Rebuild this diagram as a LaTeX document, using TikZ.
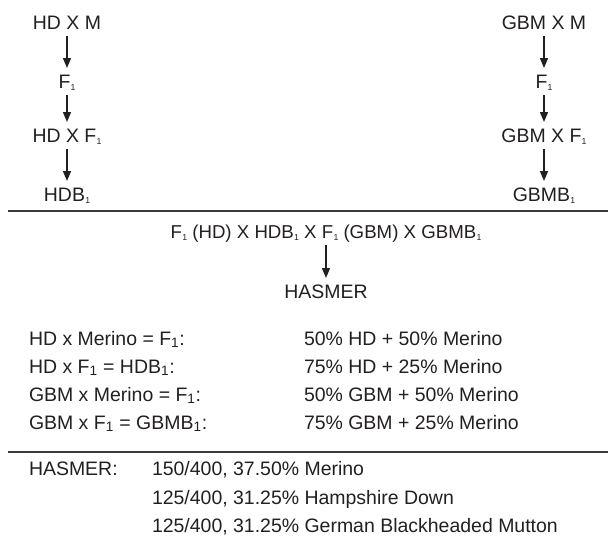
\documentclass[tikz,border=0pt]{standalone}
\usepackage{fontspec}
\setmainfont{Liberation Sans}
\usetikzlibrary{arrows.meta}
\definecolor{ink}{HTML}{231F20}
\definecolor{rulegray}{HTML}{3A3A3A}
% small, narrow index used in the cross scheme
\newcommand{\idx}{\kern0.2pt\raisebox{-1.6pt}{\fontsize{6.5}{7}\selectfont 1}}
% index used in the composition table
\newcommand{\one}{\textsubscript{1}}
\begin{document}
\begin{tikzpicture}[x=0.75pt,y=-0.75pt,
  every node/.style={inner sep=0pt, outer sep=0pt, text=ink,
    font=\fontsize{14.6}{17}\selectfont},
  lbl/.style={anchor=base, text height=10.5pt, text depth=3pt},
  cell/.style={anchor=base west},
  arr/.style={draw=ink, line width=1pt,
    -{Triangle[length=7.5pt,width=6pt]},
    shorten <=2.5pt, shorten >=4.5pt},
  sep/.style={draw=rulegray, line width=1.1pt}]
\useasboundingbox (0,0) rectangle (608,536);

% Hampshire Down line
\node[lbl] (hdm)  at (67,29)  {HD X M};
\node[lbl] (hf1)  at (67,88)  {F\idx};
\node[lbl] (hdf)  at (67,142) {HD X F\idx};
\node[lbl] (hdb)  at (67,201) {HDB\idx};
\draw[arr] (hdm.south) -- (hf1.north);
\draw[arr] (hf1.south) -- (hdf.north);
\draw[arr] (hdf.south) -- (hdb.north);

% German Blackheaded Mutton line
\node[lbl] (gbm)  at (544,29)  {GBM X M};
\node[lbl] (gf1)  at (544,88)  {F\idx};
\node[lbl] (gbf)  at (544,142) {GBM X F\idx};
\node[lbl] (gbb)  at (544,201) {GBMB\idx};
\draw[arr] (gbm.south) -- (gf1.north);
\draw[arr] (gf1.south) -- (gbf.north);
\draw[arr] (gbf.south) -- (gbb.north);

\draw[sep] (8,211) -- (608,211);

% final cross
\node[lbl, font=\fontsize{14}{17}\selectfont] (cross) at (326,238)
  {F\idx{} (HD) X HDB\idx{} X F\idx{} (GBM) X GBMB\idx};
\node[lbl] (hasmer) at (326,298) {HASMER};
\draw[arr] (cross.south) -- (hasmer.north);

% composition table
\node[cell] (r1a) at (29,345) {HD x Merino = F\one:};
\node[cell] (r2a) at (29,373) {HD x F\one{} = HDB\one:};
\node[cell] (r3a) at (29,401) {GBM x Merino = F\one:};
\node[cell] (r4a) at (29,429) {GBM x F\one{} = GBMB\one:};
\node[cell] (r1b) at (304,345) {50\% HD + 50\% Merino};
\node[cell] (r2b) at (304,373) {75\% HD + 25\% Merino};
\node[cell] (r3b) at (304,401) {50\% GBM + 50\% Merino};
\node[cell] (r4b) at (304,429) {75\% GBM + 25\% Merino};

\draw[sep] (8,452) -- (608,452);

\node[cell] (hl)  at (29,475)  {HASMER:};
\node[cell] (h1)  at (152,475) {150/400, 37.50\% Merino};
\node[cell] (h2)  at (152,504) {125/400, 31.25\% Hampshire Down};
\node[cell] (h3)  at (152,532) {125/400, 31.25\% German Blackheaded Mutton};
\end{tikzpicture}
\end{document}
